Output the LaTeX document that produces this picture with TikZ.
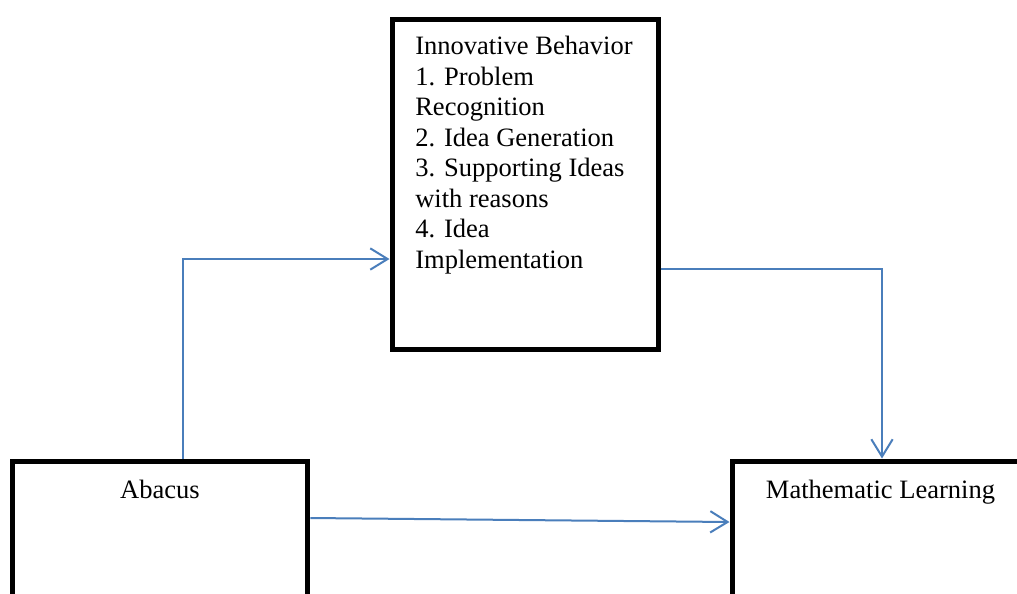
\documentclass[tikz,border=0pt]{standalone}
\usepackage{fontspec}
\setmainfont{Liberation Serif}
\usetikzlibrary{arrows.meta,calc}
\definecolor{linkblue}{HTML}{4A7EBB}
\begin{document}
\begin{tikzpicture}[x=0.75pt,y=-0.75pt,
  box/.style={draw=black,line width=3.75pt,fill=white},
  txt/.style={inner sep=0pt,font=\fontsize{19.9pt}{22.9pt}\selectfont},
  link/.style={draw=linkblue,line width=1.5pt,
    -{Straight Barb[length=13pt,width=16pt,line width=1.5pt]}}]
\useasboundingbox (0,0) rectangle (1017,593);
\clip (0,0) rectangle (1017,593);
\fill[white] (0,0) rectangle (1017,593);

% boxes
\node[box,minimum width=199.5pt,minimum height=247.5pt] (behav) at (525,184) {};
\node[box,minimum width=221.6pt,minimum height=150pt] (abacus) at (160.25,561) {};
\node[box,minimum width=222pt,minimum height=150pt] (math) at (880,561) {};

% box texts
\node[txt,anchor=north west,align=left] (behavtext) at (415,36)
  {Innovative Behavior\\1. Problem\\Recognition\\2. Idea Generation\\3. Supporting Ideas\\with reasons\\4. Idea\\Implementation};
\node[txt,anchor=base] (abacustext) at (160,498) {Abacus};
\node[txt,anchor=base] (mathtext) at (880.5,498) {Mathematic Learning};

% connectors
\draw[link] ($(abacus.north)+(22.75,0)$) |- ($(behav.west)+(0,75)$);
\draw[link] ($(behav.east)+(0,85)$) -| ($(math.north)+(2,0)$);
\draw[link] ($(abacus.east)+(0,-43)$) -- ($(math.west)+(0,-39)$);
\end{tikzpicture}
\end{document}
